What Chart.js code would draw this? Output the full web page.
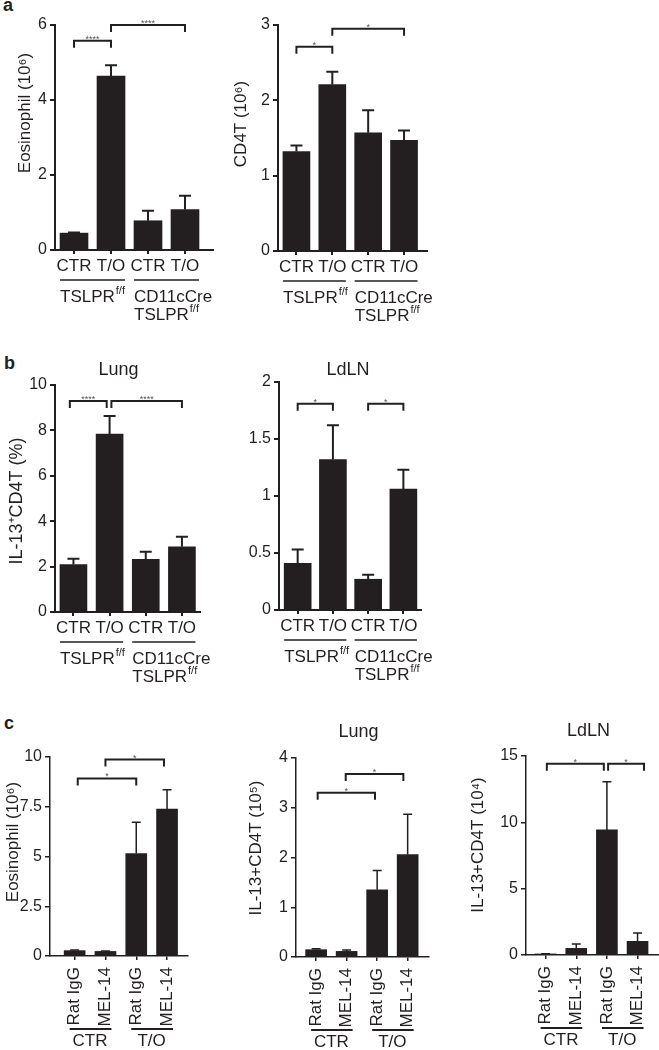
<!DOCTYPE html>
<html>
<head>
<meta charset="utf-8">
<script src="https://cdn.jsdelivr.net/npm/chart.js@4.4.1/dist/chart.umd.min.js"></script>
<style>
  html, body { margin: 0; padding: 0; background: #fff; }
  #fig { position: relative; width: 659px; height: 1050px; overflow: hidden; font-family: "Liberation Sans", Arial, sans-serif; }
  #fig canvas { position: absolute; }
  .tag { position: absolute; font-weight: bold; font-size: 18px; color: #231f20; }
</style>
</head>
<body>
<div id="fig">
  <div class="tag" style="left:3px;top:-5px">a</div>
  <div class="tag" style="left:4px;top:353px">b</div>
  <div class="tag" style="left:4px;top:713px">c</div>
</div>
<script>
const ink = "#231f20";
const family = "'Liberation Sans', Arial, Helvetica, sans-serif";

// ---- categories ----
const xPos = [1, 2, 3, 4];
const catsAB = ["CTR", "T/O", "CTR", "T/O"];
const groupsAB = [["TSLPR^f/f"], ["CD11cCre", "TSLPR^f/f"]];
const catsC = ["Rat IgG", "MEL-14", "Rat IgG", "MEL-14"];
const groupsC = [["CTR"], ["T/O"]];

// ---- a: Eosinophil ----
const eosA = [0.45, 4.64, 0.78, 1.08];
const eosAErr = [0.02, 0.29, 0.27, 0.37];
const eosATicks = [0, 2, 4, 6];
const eosASig = [[1, 2, "****", 5.58], [2, 4, "****", 6.0]];

// ---- a: CD4T ----
const cd4A = [1.32, 2.21, 1.57, 1.47];
const cd4AErr = [0.08, 0.17, 0.30, 0.13];
const cd4ATicks = [0, 1, 2, 3];
const cd4ASig = [[1, 2, "*", 2.71], [2, 4, "*", 2.95]];

// ---- b: Lung IL-13+ CD4T (%) ----
const lungB = [2.09, 7.84, 2.32, 2.87];
const lungBErr = [0.26, 0.79, 0.33, 0.44];
const lungBTicks = [0, 2, 4, 6, 8, 10];
const lungBSig = [[0.9, 1.92, "****", 9.3], [2.05, 4, "****", 9.3]];

// ---- b: LdLN ----
const ldlnB = [0.41, 1.32, 0.27, 1.06];
const ldlnBErr = [0.12, 0.30, 0.04, 0.17];
const ldlnBTicks = [0, 0.5, 1, 1.5, 2];
const ldlnBSig = [[1, 2, "*", 1.81], [3, 4, "*", 1.81]];

// ---- c: Eosinophil ----
const eosC = [0.27, 0.23, 5.15, 7.38];
const eosCErr = [0.03, 0.02, 1.57, 0.98];
const eosCTicks = [0, 2.5, 5, 7.5, 10];
const eosCSig = [[1.1, 3, "*", 8.92], [2, 3.9, "*", 9.87]];

// ---- c: Lung ----
const lungC = [0.147, 0.113, 1.35, 2.06];
const lungCErr = [0.02, 0.03, 0.39, 0.81];
const lungCTicks = [0, 1, 2, 3, 4];
const lungCSig = [[1.05, 2.93, "*", 3.30], [1.97, 3.86, "*", 3.68]];

// ---- c: LdLN ----
const ldlnC = [0.08, 0.5, 9.43, 1.03];
const ldlnCErr = [0.02, 0.33, 3.63, 0.62];
const ldlnCTicks = [0, 5, 10, 15];
const ldlnCSig = [[1.04, 2.9, "*", 14.42], [3.04, 4.21, "*", 14.42]];

const styleAB = { lw: 2, tick: 16, cat: 17, cap: 12, errW: 2, drop: 7, rows: [16, 30, 47, 65], rotated: false, cats: catsAB, groups: groupsAB };
const styleC = { lw: 1.5, tick: 16, cat: 17, cap: 9, errW: 1.5, drop: 7, rows: [11, 73, 85], rotated: true, cats: catsC, groups: groupsC };

const panels = [
  { ...styleAB, box: [0, 10, 230, 320], area: [55, 25, 213, 250], xr: [0.486, 4.757], bar: 28,
    values: eosA, err: eosAErr, ticks: eosATicks, sig: eosASig,
    ytitle: "Eosinophil (10⁶)", titleAt: [25, 113], titleSize: 17 },
  { ...styleAB, box: [230, 10, 215, 320], area: [278, 25, 427, 251], xr: [0.486, 4.64], bar: 27,
    values: cd4A, err: cd4AErr, ticks: cd4ATicks, sig: cd4ASig,
    ytitle: "CD4T (10⁶)", titleAt: [241, 124], titleSize: 17 },
  { ...styleAB, box: [0, 340, 230, 345], area: [55, 385, 200, 612], xr: [0.49, 4.5], bar: 27,
    values: lungB, err: lungBErr, ticks: lungBTicks, sig: lungBSig,
    ytitle: "IL-13⁺CD4T (%)", titleAt: [17, 501], titleSize: 18,
    title: "Lung", titleDx: -9, titleDy: -15 },
  { ...styleAB, box: [230, 340, 215, 345], area: [279, 382, 421, 610], xr: [0.47, 4.5], bar: 27,
    values: ldlnB, err: ldlnBErr, ticks: ldlnBTicks, sig: ldlnBSig,
    ytitle: "", titleAt: [0, 0], titleSize: 17,
    title: "LdLN", titleDx: -2, titleDy: -12 },
  { ...styleC, box: [0, 700, 200, 350], area: [50, 757, 188, 956], xr: [0.2, 4.68], bar: 21,
    values: eosC, err: eosCErr, ticks: eosCTicks, sig: eosCSig,
    ytitle: "Eosinophil (10⁶)", titleAt: [13, 842], titleSize: 17 },
  { ...styleC, box: [230, 700, 210, 350], area: [296, 758, 429, 957], xr: [0.34, 4.7], bar: 21,
    values: lungC, err: lungCErr, ticks: lungCTicks, sig: lungCSig,
    ytitle: "IL-13+CD4T (10⁵)", titleAt: [256, 848], titleSize: 17,
    title: "Lung", titleDx: -4, titleDy: -26 },
  { ...styleC, box: [440, 700, 219, 350], area: [526, 756, 659, 955], xr: [0.36, 4.7], bar: 21,
    values: ldlnC, err: ldlnCErr, ticks: ldlnCTicks, sig: ldlnCSig,
    ytitle: "IL-13+CD4T (10⁴)", titleAt: [478, 845], titleSize: 17,
    title: "LdLN", titleDx: -4, titleDy: -25 }
];

// text with an optional superscript part after "^"
function drawRich(ctx, str, x, y, size, align) {
  const [base, sup] = str.split("^");
  ctx.font = `${size}px ${family}`;
  const w1 = ctx.measureText(base).width;
  ctx.font = `${Math.round(size * 0.62)}px ${family}`;
  const w2 = sup ? ctx.measureText(sup).width + 1 : 0;
  const x0 = align === "center" ? x - (w1 + w2) / 2 : x;
  ctx.textAlign = "left"; ctx.textBaseline = "middle";
  ctx.font = `${size}px ${family}`;
  ctx.fillText(base, x0, y);
  if (sup) {
    ctx.font = `${Math.round(size * 0.62)}px ${family}`;
    ctx.fillText(sup, x0 + w1 + 1, y - size * 0.33);
  }
}

const extras = {
  id: "panelExtras",
  afterDraw(chart, args, p) {
    const ctx = chart.ctx, xs = chart.scales.x, ys = chart.scales.y;
    const area = chart.chartArea, base = area.bottom;
    ctx.save();
    ctx.strokeStyle = ink; ctx.fillStyle = ink;

    // error bars, upper half only
    ctx.lineWidth = p.errW;
    p.values.forEach((v, i) => {
      const x = xs.getPixelForValue(xPos[i]);
      const y0 = ys.getPixelForValue(v), y1 = ys.getPixelForValue(v + p.err[i]);
      ctx.beginPath();
      ctx.moveTo(x, y0); ctx.lineTo(x, y1);
      ctx.moveTo(x - p.cap / 2, y1); ctx.lineTo(x + p.cap / 2, y1);
      ctx.stroke();
    });

    // significance brackets
    p.sig.forEach(([a, b, mark, lvl]) => {
      const x1 = xs.getPixelForValue(a), x2 = xs.getPixelForValue(b), y = ys.getPixelForValue(lvl);
      ctx.lineWidth = 2;
      ctx.beginPath();
      ctx.moveTo(x1, y + p.drop); ctx.lineTo(x1, y); ctx.lineTo(x2, y); ctx.lineTo(x2, y + p.drop);
      ctx.stroke();
      ctx.font = `9px ${family}`; ctx.textAlign = "center"; ctx.textBaseline = "alphabetic";
      ctx.fillStyle = "#555";
      ctx.fillText(mark, (x1 + x2) / 2, y + 1);
      ctx.fillStyle = ink;
    });

    // category labels
    if (!p.rotated) {
      ctx.font = `${p.cat}px ${family}`; ctx.textAlign = "center"; ctx.textBaseline = "middle";
      p.cats.forEach((c, i) => ctx.fillText(c, xs.getPixelForValue(xPos[i]), base + p.rows[0]));
    } else {
      p.cats.forEach((c, i) => {
        ctx.save();
        ctx.translate(xs.getPixelForValue(xPos[i]), base + p.rows[0]);
        ctx.rotate(-Math.PI / 2);
        ctx.font = `${p.cat}px ${family}`; ctx.textAlign = "right"; ctx.textBaseline = "middle";
        ctx.fillText(c, 0, 0);
        ctx.restore();
      });
    }

    // group underlines and group names
    p.groups.forEach((lines, g) => {
      const xa = xs.getPixelForValue(xPos[g * 2]), xb = xs.getPixelForValue(xPos[g * 2 + 1]);
      const l = p.rotated ? xa - 5 : xa - p.bar / 2;
      const r = p.rotated ? xb + 6 : xb + p.bar / 2;
      ctx.lineWidth = p.rotated ? 2 : 1.5;
      ctx.beginPath();
      ctx.moveTo(l, base + p.rows[1]); ctx.lineTo(r, base + p.rows[1]);
      ctx.stroke();
      lines.forEach((txt, k) => {
        if (p.rotated) drawRich(ctx, txt, (xa + xb) / 2, base + p.rows[2], p.cat, "center");
        else drawRich(ctx, txt, l, base + p.rows[2 + k], p.cat, "left");
      });
    });

    // y-axis title (rotated)
    if (p.ytitle) {
      ctx.save();
      ctx.translate(p.titleAt[0] - p.box[0], p.titleAt[1] - p.box[1]);
      ctx.rotate(-Math.PI / 2);
      ctx.font = `${p.titleSize}px ${family}`; ctx.textAlign = "center"; ctx.textBaseline = "middle";
      ctx.fillText(p.ytitle, 0, 0);
      ctx.restore();
    }

    // panel title
    if (p.title) {
      ctx.font = `18px ${family}`; ctx.textAlign = "center"; ctx.textBaseline = "middle";
      ctx.fillText(p.title, (area.left + area.right) / 2 + p.titleDx, area.top + p.titleDy);
    }
    ctx.restore();
  }
};

function makePanel(p) {
  const cv = document.createElement("canvas");
  const [bx, by, bw, bh] = p.box;
  const [l, t, r, b] = p.area;
  cv.width = bw; cv.height = bh;
  cv.style.left = bx + "px"; cv.style.top = by + "px";
  cv.style.width = bw + "px"; cv.style.height = bh + "px";
  document.getElementById("fig").appendChild(cv);
  new Chart(cv, {
    type: "bar",
    data: {
      datasets: [{
        data: xPos.map((x, i) => ({ x, y: p.values[i] })),
        backgroundColor: ink, borderWidth: 0, barThickness: p.bar
      }]
    },
    options: {
      responsive: false, animation: false, events: [], devicePixelRatio: 1,
      layout: { padding: { left: 0, top: t - by, right: bx + bw - r, bottom: 0 } },
      plugins: { legend: { display: false }, tooltip: { enabled: false }, panelExtras: p },
      scales: {
        x: {
          type: "linear", min: p.xr[0], max: p.xr[1], offset: false,
          afterBuildTicks: s => { s.ticks = xPos.map(v => ({ value: v })); },
          afterFit: s => { s.height = by + bh - b; },
          ticks: { display: false },
          grid: { display: true, offset: false, drawOnChartArea: false, drawTicks: true, tickLength: 4, color: ink, lineWidth: p.lw },
          border: { display: true, color: ink, width: p.lw }
        },
        y: {
          min: 0, max: p.ticks[p.ticks.length - 1],
          afterBuildTicks: s => { s.ticks = p.ticks.map(v => ({ value: v })); },
          afterFit: s => { s.width = l - bx; },
          ticks: { callback: v => String(v), font: { family, size: p.tick }, color: ink, padding: 3, autoSkip: false },
          grid: { display: true, drawOnChartArea: false, drawTicks: true, tickLength: 5, color: ink, lineWidth: p.lw },
          border: { display: true, color: ink, width: p.lw },
          title: { display: false }
        }
      }
    },
    plugins: [extras]
  });
}

panels.forEach(makePanel);
</script>
</body>
</html>
